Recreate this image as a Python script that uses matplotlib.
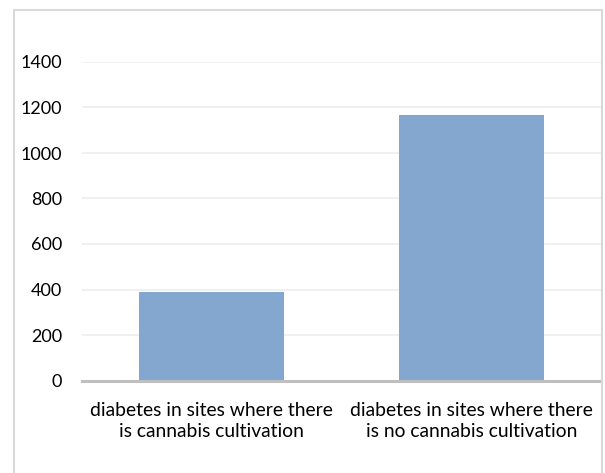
import matplotlib
matplotlib.use("Agg")
import matplotlib.pyplot as plt
from matplotlib.patches import Rectangle

# data
categories = ["diabetes in sites where there\nis cannabis cultivation",
              "diabetes in sites where there\nis no cannabis cultivation"]
values = [389, 1167]
yticks = [0, 200, 400, 600, 800, 1000, 1200, 1400]

W, H = 605, 473
plt.rcParams['font.family'] = ['Lato', 'DejaVu Sans']

fig = plt.figure(figsize=(W / 100, H / 100), dpi=100)

# chart border (bottom edge falls outside the image)
fig.patches.append(Rectangle((14 / W, -0.05), (602 - 14) / W, 1.05 - 10 / H,
                             transform=fig.transFigure, fill=False,
                             edgecolor='#D9D9D9', linewidth=1.5))

ax = fig.add_axes([82 / W, (H - 380.5) / H, (601 - 82) / W, (380.5 - 62) / H])
ax.bar(range(len(values)), values, width=0.56, color='#84A7D0', zorder=2)

ax.set_xlim(-0.5, 1.5)
ax.set_ylim(0, 1400)
ax.set_yticks(yticks)
ax.set_xticks(range(len(categories)))
ax.set_xticklabels(categories, fontsize=13.9, linespacing=1.25)
ax.tick_params(axis='both', length=0, colors='#000000')
ax.tick_params(axis='y', pad=14.4, labelsize=13)
ax.tick_params(axis='x', pad=15.5)

ax.grid(axis='y', color='#EFEFEF', linewidth=1.3, zorder=0)
for s in ['top', 'right', 'left']:
    ax.spines[s].set_visible(False)
ax.spines['bottom'].set_color('#BFBFBF')
ax.spines['bottom'].set_linewidth(2.2)
ax.spines['bottom'].set_zorder(3)

fig.savefig("out.png", dpi=100)
